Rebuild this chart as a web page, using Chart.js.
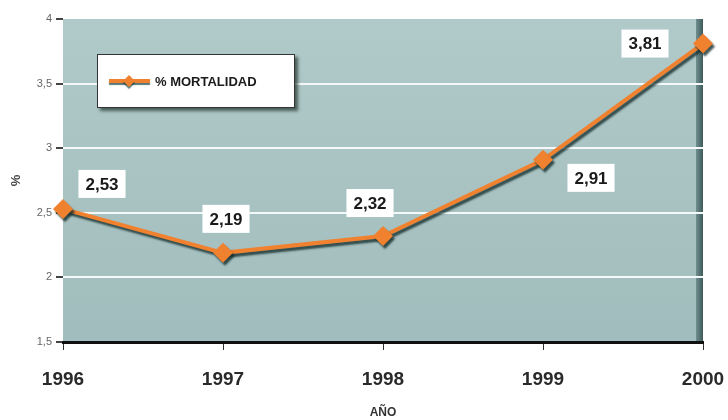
<!DOCTYPE html>
<html>
<head>
<meta charset="utf-8">
<script src="https://cdn.jsdelivr.net/npm/chart.js@4/dist/chart.umd.min.js"></script>
<style>
  html, body { margin: 0; padding: 0; background: #ffffff; }
  #wrap { width: 728px; height: 420px; }
</style>
</head>
<body>
<div id="wrap"><canvas id="chart"></canvas></div>
<script>
var years = ['1996', '1997', '1998', '1999', '2000'];
var mortalidad = [2.53, 2.19, 2.32, 2.91, 3.81];
var seriesName = '% MORTALIDAD';
var yTicks = [1.5, 2, 2.5, 3, 3.5, 4];

var orange = '#f0812f';

function fmt(v) {
  return String(v).replace('.', ',');
}

// plot background with gradient and dark right edge
var plotBg = {
  id: 'plotBg',
  beforeDraw: function(chart) {
    var a = chart.chartArea;
    var ctx = chart.ctx;
    ctx.save();
    var g = ctx.createLinearGradient(0, a.top, 0, a.bottom);
    g.addColorStop(0, '#b0c9c9');
    g.addColorStop(1, '#a2bdbd');
    ctx.fillStyle = g;
    ctx.fillRect(a.left, a.top, a.right - a.left, a.bottom - a.top);
    var e = ctx.createLinearGradient(a.right - 7, 0, a.right, 0);
    e.addColorStop(0, '#6f8f8f');
    e.addColorStop(1, '#3f5a5a');
    ctx.fillStyle = e;
    ctx.fillRect(a.right - 7, a.top, 7, a.bottom - a.top);
    ctx.restore();
  }
};

// shadow under the line
var lineShadow = {
  id: 'lineShadow',
  beforeDatasetsDraw: function(chart) {
    var ctx = chart.ctx;
    ctx.save();
    ctx.shadowColor = 'rgba(20,45,45,0.8)';
    ctx.shadowOffsetX = 2;
    ctx.shadowOffsetY = 3;
    ctx.shadowBlur = 2;
  },
  afterDatasetsDraw: function(chart) {
    chart.ctx.restore();
  }
};

// value labels in white boxes
var valueBoxes = {
  id: 'valueBoxes',
  afterDatasetsDraw: function(chart) {
    var ctx = chart.ctx;
    var meta = chart.getDatasetMeta(0);
    var offs = [[39, -25], [3, -34], [-13, -33], [48, 18], [-58, 0]];
    ctx.save();
    ctx.font = 'bold 17px "Liberation Sans", Arial, sans-serif';
    ctx.textAlign = 'center';
    ctx.textBaseline = 'middle';
    meta.data.forEach(function(pt, i) {
      var txt = fmt(chart.data.datasets[0].data[i]);
      var cx = pt.x + offs[i][0];
      var cy = pt.y + offs[i][1];
      var w = ctx.measureText(txt).width + 14;
      ctx.fillStyle = '#ffffff';
      ctx.fillRect(cx - w / 2, cy - 14, w, 28);
      ctx.fillStyle = '#1a1a1a';
      ctx.fillText(txt, cx, cy + 1);
    });
    ctx.restore();
  }
};

// legend box inside the plot
var legendBox = {
  id: 'legendBox',
  afterDatasetsDraw: function(chart) {
    var ctx = chart.ctx;
    var x = 97, y = 54, w = 198, h = 54;
    ctx.save();
    ctx.shadowColor = 'rgba(30,50,40,0.7)';
    ctx.shadowOffsetX = 3;
    ctx.shadowOffsetY = 3;
    ctx.shadowBlur = 3;
    ctx.fillStyle = '#ffffff';
    ctx.fillRect(x, y, w, h);
    ctx.shadowColor = 'transparent';
    ctx.strokeStyle = '#333';
    ctx.lineWidth = 1;
    ctx.strokeRect(x + 0.5, y + 0.5, w - 1, h - 1);
    var ly = y + 27;
    ctx.shadowColor = 'rgba(20,60,60,0.7)';
    ctx.shadowOffsetY = 2;
    ctx.shadowOffsetX = 0;
    ctx.shadowBlur = 1;
    ctx.strokeStyle = orange;
    ctx.lineWidth = 4;
    ctx.beginPath();
    ctx.moveTo(109, ly);
    ctx.lineTo(150, ly);
    ctx.stroke();
    ctx.fillStyle = orange;
    ctx.beginPath();
    ctx.moveTo(129, ly - 6);
    ctx.lineTo(135, ly);
    ctx.lineTo(129, ly + 6);
    ctx.lineTo(123, ly);
    ctx.closePath();
    ctx.fill();
    ctx.shadowColor = 'transparent';
    ctx.fillStyle = '#1a1a1a';
    ctx.font = 'bold 13px "Liberation Sans", Arial, sans-serif';
    ctx.textBaseline = 'middle';
    ctx.fillText(chart.data.datasets[0].label, 155, ly + 1);
    ctx.restore();
  }
};

new Chart(document.getElementById('chart'), {
  type: 'line',
  data: {
    labels: years,
    datasets: [{
      label: seriesName,
      data: mortalidad,
      borderColor: orange,
      borderWidth: 4,
      backgroundColor: orange,
      pointStyle: 'rectRot',
      pointRadius: 10,
      pointBackgroundColor: orange,
      pointBorderColor: orange,
      pointBorderWidth: 0,
      tension: 0,
      clip: false
    }]
  },
  options: {
    responsive: true,
    maintainAspectRatio: false,
    animation: false,
    layout: { padding: { top: 19, right: 25, left: 0, bottom: 0 } },
    plugins: {
      legend: { display: false },
      tooltip: { enabled: false }
    },
    scales: {
      x: {
        offset: false,
        afterFit: function(s) {
          s.height = 78;
          s.paddingLeft = 0;
          s.paddingRight = 0;
        },
        border: { display: true, color: '#111', width: 3 },
        grid: { drawOnChartArea: false, tickLength: 8, tickColor: '#333', tickWidth: 1 },
        ticks: {
          color: '#2a2a2a',
          padding: 18,
          maxRotation: 0,
          font: { family: '"Liberation Sans", Arial, sans-serif', size: 19, weight: 'bold' }
        },
        title: {
          display: true,
          text: 'AÑO',
          color: '#333',
          padding: { top: 0, bottom: 0 },
          font: { family: '"Liberation Sans", Arial, sans-serif', size: 12, weight: 'bold' }
        }
      },
      y: {
        min: 1.5,
        max: 4,
        afterFit: function(s) {
          s.width = 63;
          s.paddingTop = 0;
          s.paddingBottom = 0;
        },
        afterBuildTicks: function(s) {
          s.ticks = yTicks.map(function(v) { return { value: v }; });
        },
        border: { display: false },
        grid: {
          color: function(c) {
            return (c.tick && (c.tick.value === 1.5 || c.tick.value === 4)) ? 'rgba(0,0,0,0)' : '#f4f8f8';
          },
          lineWidth: 2,
          tickLength: 7,
          tickColor: '#444'
        },
        ticks: {
          color: '#666',
          padding: 4,
          font: { family: '"Liberation Sans", Arial, sans-serif', size: 11 },
          callback: function(v) { return fmt(v); }
        },
        title: {
          display: true,
          text: '%',
          color: '#444',
          padding: { top: 9, bottom: 0 },
          font: { family: '"Liberation Sans", Arial, sans-serif', size: 13, weight: 'bold' }
        }
      }
    }
  },
  plugins: [plotBg, lineShadow, valueBoxes, legendBox]
});
</script>
</body>
</html>
